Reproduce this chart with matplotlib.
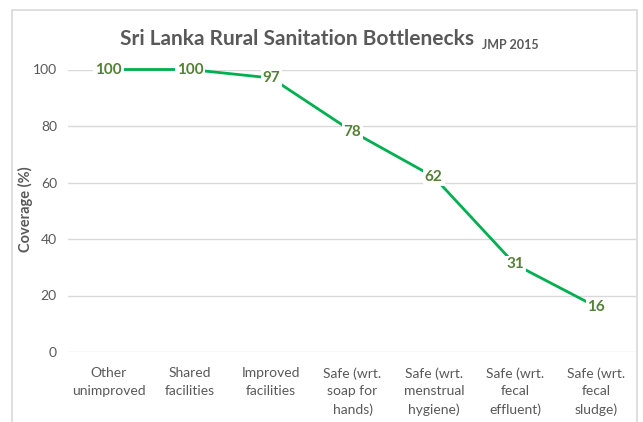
import matplotlib

matplotlib.use("Agg")
import matplotlib.pyplot as plt
from matplotlib.patches import Rectangle

# Sanitation ladder, rural Sri Lanka (JMP 2015)
categories = [
    "Other\nunimproved",
    "Shared\nfacilities",
    "Improved\nfacilities",
    "Safe (wrt.\nsoap for\nhands)",
    "Safe (wrt.\nmenstrual\nhygiene)",
    "Safe (wrt.\nfecal\neffluent)",
    "Safe (wrt.\nfecal\nsludge)",
]
coverage = [100, 100, 97, 78, 62, 31, 16]
y_ticks = [0, 20, 40, 60, 80, 100]

GREY = "#595959"
LINE_GREEN = "#00B050"
LABEL_GREEN = "#538135"

plt.rcParams["font.family"] = ["Lato", "DejaVu Sans"]

fig = plt.figure(figsize=(6.43, 4.22), dpi=100)
W, H = 643, 422

# chart frame
fig.patches.append(
    Rectangle((12 / W, -0.05), (637 - 12) / W, 1.05 - 10 / H,
              transform=fig.transFigure, fill=False, edgecolor="#D9D9D9", linewidth=1.2)
)

ax = fig.add_axes([68 / W, 1 - 352 / H, (637 - 68) / W, (352 - 69.5) / H])
x = list(range(len(categories)))
ax.plot(x, coverage, color=LINE_GREEN, linewidth=2.0, clip_on=False, zorder=3)

for xi, v in zip(x, coverage):
    ax.text(xi, v, f"{v}", ha="center", va="center", fontsize=11, fontweight="bold",
            color=LABEL_GREEN, zorder=4,
            bbox=dict(boxstyle="square,pad=0.12", facecolor="white", edgecolor="none"))

ax.set_xlim(-0.5, len(categories) - 0.5)
ax.set_ylim(0, 100)
ax.set_yticks(y_ticks)
ax.set_xticks(x)
ax.set_xticklabels(categories, fontsize=10, color=GREY, linespacing=1.55)
ax.tick_params(axis="y", labelsize=10, labelcolor=GREY, length=0, pad=8)
ax.tick_params(axis="x", length=0, pad=11)
ax.grid(axis="y", color="#D9D9D9", linewidth=1.0)
ax.set_axisbelow(True)
for s in ax.spines.values():
    s.set_visible(False)

fig.text(25 / W, 1 - 209 / H, "Coverage (%)", rotation=90, ha="center", va="center",
         fontsize=10.5, fontweight="bold", color=GREY)

fig.text(297 / W, 1 - 45 / H, "Sri Lanka Rural Sanitation Bottlenecks", ha="center",
         va="baseline", fontsize=15, fontweight="bold", color=GREY)
fig.text(482 / W, 1 - 49 / H, "JMP 2015", ha="left", va="baseline",
         fontsize=9, fontweight="bold", color=GREY)

fig.savefig("out.png", dpi=100)
